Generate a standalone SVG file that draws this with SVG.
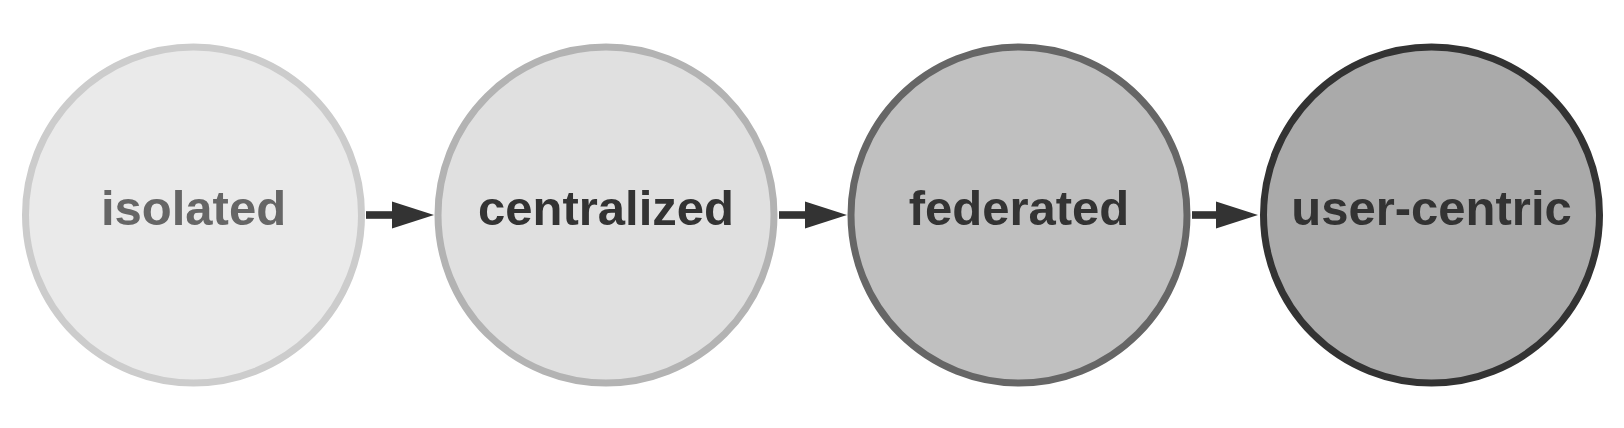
<svg xmlns="http://www.w3.org/2000/svg" width="1624" height="428" viewBox="0 0 1624 428">
<style>
circle{stroke-width:7}
text{font-family:"Liberation Sans",Arial,sans-serif;font-weight:bold;font-size:49px;text-anchor:middle}
.c{stroke:#333;stroke-width:7.6;fill:none}
.h{fill:#333}
</style>
<rect width="1624" height="428" fill="#fff"/>
<g id="isolated"><circle cx="193.5" cy="215" r="168" fill="#eaeaea" stroke="#cccccc"/><text x="193.5" y="225" fill="#666">isolated</text></g>
<g id="centralized"><circle cx="606" cy="215" r="168" fill="#e0e0e0" stroke="#b3b3b3"/><text x="606" y="225" fill="#333">centralized</text></g>
<g id="federated"><circle cx="1019" cy="215" r="168" fill="#c0c0c0" stroke="#666666"/><text x="1019" y="225" fill="#333">federated</text></g>
<g id="user-centric"><circle cx="1431.5" cy="215" r="168" fill="#aaaaaa" stroke="#333333"/><text x="1431.5" y="225" fill="#333">user-centric</text></g>
<g id="connectors">
<path class="c" d="M366 215H393"/><path class="h" d="M392 201.5L434 215L392 228.5Z"/>
<path class="c" d="M779 215H806"/><path class="h" d="M805 201.5L847 215L805 228.5Z"/>
<path class="c" d="M1192 215H1219"/><path class="h" d="M1216 201.5L1258 215L1216 228.5Z"/>
</g>
</svg>
